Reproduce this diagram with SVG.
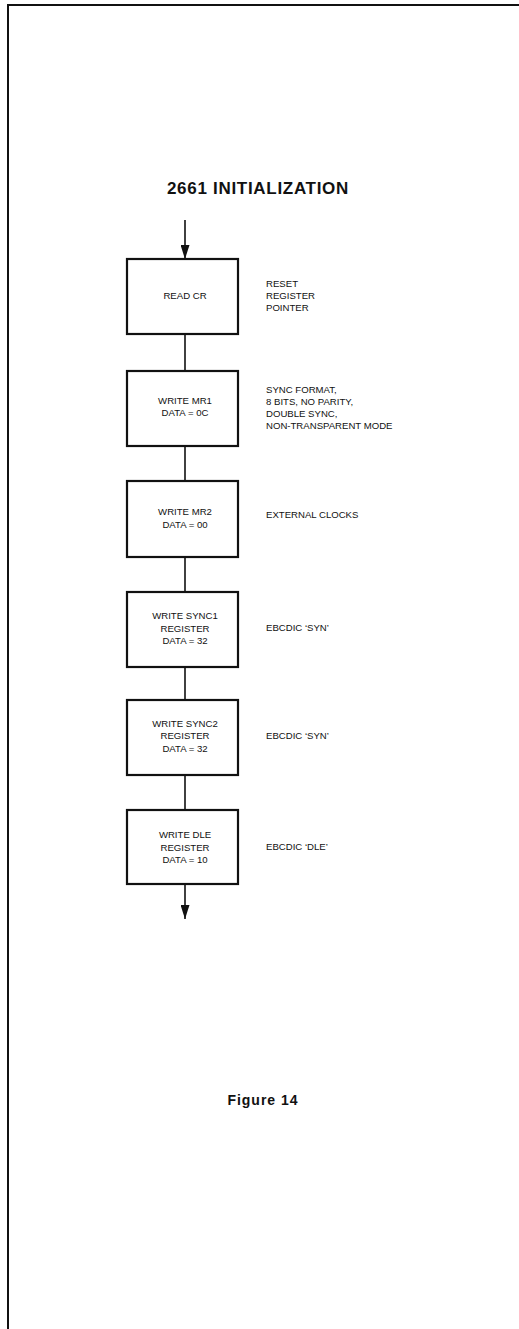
<svg xmlns="http://www.w3.org/2000/svg" width="519" height="1329" viewBox="0 0 519 1329">
<style>
.box{fill:#fff;stroke:#111;stroke-width:2.2}
.con{stroke:#111;stroke-width:1.6;fill:none}
.t{font-family:"Liberation Sans",Arial,sans-serif;font-size:9.6px;fill:#111}
.c{text-anchor:middle}
.h{font-family:"Liberation Sans",Arial,sans-serif;font-weight:bold;fill:#111}
</style>
<defs>
<marker id="ah" markerWidth="14" markerHeight="9" refX="14" refY="4.5" orient="auto" markerUnits="userSpaceOnUse" viewBox="0 0 14 9">
<path d="M0,0 L14,4.5 L0,9 Z" fill="#111"/>
</marker>
</defs>
<rect width="519" height="1329" fill="#fff"/>
<g id="frame">
<path d="M8,1329 L8,5 L519,5" fill="none" stroke="#111" stroke-width="2"/>
</g>
<text class="h" x="258" y="194" font-size="17" text-anchor="middle" letter-spacing="0.7">2661 INITIALIZATION</text>
<g id="connectors">
<line class="con" x1="185" y1="220" x2="185" y2="259" marker-end="url(#ah)"/>
<line class="con" x1="185" y1="334" x2="185" y2="371"/>
<line class="con" x1="185" y1="446" x2="185" y2="481"/>
<line class="con" x1="185" y1="557" x2="185" y2="592"/>
<line class="con" x1="185" y1="667" x2="185" y2="700"/>
<line class="con" x1="185" y1="775" x2="185" y2="810"/>
<line class="con" x1="185" y1="884" x2="185" y2="919" marker-end="url(#ah)"/>
</g>
<g id="n1">
<rect class="box" x="127" y="259" width="111" height="75"/>
<text class="t c" x="185" y="299">READ CR</text>
<text class="t" x="266" y="287">RESET</text>
<text class="t" x="266" y="299">REGISTER</text>
<text class="t" x="266" y="311">POINTER</text>
</g>
<g id="n2">
<rect class="box" x="127" y="371" width="111" height="75"/>
<text class="t c" x="185" y="404">WRITE MR1</text>
<text class="t c" x="185" y="416">DATA = 0C</text>
<text class="t" x="266" y="393">SYNC FORMAT,</text>
<text class="t" x="266" y="405">8 BITS, NO PARITY,</text>
<text class="t" x="266" y="417">DOUBLE SYNC,</text>
<text class="t" x="266" y="429">NON-TRANSPARENT MODE</text>
</g>
<g id="n3">
<rect class="box" x="127" y="481" width="111" height="76"/>
<text class="t c" x="185" y="515">WRITE MR2</text>
<text class="t c" x="185" y="528">DATA = 00</text>
<text class="t" x="266" y="518">EXTERNAL CLOCKS</text>
</g>
<g id="n4">
<rect class="box" x="127" y="592" width="111" height="75"/>
<text class="t c" x="185" y="619">WRITE SYNC1</text>
<text class="t c" x="185" y="632">REGISTER</text>
<text class="t c" x="185" y="644">DATA = 32</text>
<text class="t" x="266" y="631">EBCDIC ‘SYN’</text>
</g>
<g id="n5">
<rect class="box" x="127" y="700" width="111" height="75"/>
<text class="t c" x="185" y="727">WRITE SYNC2</text>
<text class="t c" x="185" y="739">REGISTER</text>
<text class="t c" x="185" y="752">DATA = 32</text>
<text class="t" x="266" y="739">EBCDIC ‘SYN’</text>
</g>
<g id="n6">
<rect class="box" x="127" y="810" width="111" height="74"/>
<text class="t c" x="185" y="838">WRITE DLE</text>
<text class="t c" x="185" y="851">REGISTER</text>
<text class="t c" x="185" y="863">DATA = 10</text>
<text class="t" x="266" y="850">EBCDIC ‘DLE’</text>
</g>
<text class="h" x="263" y="1105" font-size="14" text-anchor="middle" letter-spacing="1">Figure 14</text>
</svg>
